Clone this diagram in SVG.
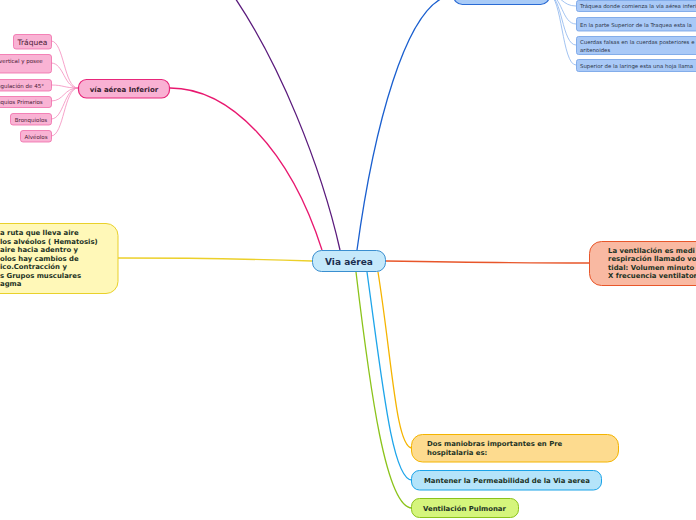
<svg xmlns="http://www.w3.org/2000/svg" width="696" height="520" viewBox="0 0 696 520">
<style>
text{font-family:"DejaVu Sans",Verdana,sans-serif;}
.b{font-weight:bold;}
.main{font-size:9px;fill:#1b2f4f;font-weight:bold;}
.t1{font-size:6.9px;fill:#1c3224;font-weight:bold;}
.pk{font-size:5.5px;fill:#4a2035;}
.bl{font-size:5.4px;fill:#2b3447;}
.c{fill:none;stroke-width:1.3;}
.cs{fill:none;stroke-width:0.8;}
</style>
<rect width="696" height="520" fill="#ffffff"/>
<g id="connectors">
<path class="c" stroke="#5a1a7c" d="M340,250 C322,170 280,60 226,-15"/>
<path class="c" stroke="#1a5fcf" d="M357,250 C372,140 405,-5 455,-5"/>
<path class="c" stroke="#e8186f" d="M322,250 C290,150 230,88 170,88"/>
<path class="c" stroke="#ecd02a" d="M312,261 C250,259 180,258 118,258"/>
<path class="c" stroke="#e8562a" d="M386,261 C450,262 520,263 589,263"/>
<path class="c" stroke="#f5b400" d="M378,272 C392,360 396,448 412,448"/>
<path class="c" stroke="#1ea5ea" d="M367,272 C382,380 392,480 412,480"/>
<path class="c" stroke="#8bc31a" d="M356,272 C370,390 386,508 412,508"/>
<g stroke="#f48bbd">
<path class="cs" d="M78,88 C64,88 64,41 51,41"/>
<path class="cs" d="M78,88 C64,88 64,63 51,63"/>
<path class="cs" d="M78,88 C64,88 64,85 51,85"/>
<path class="cs" d="M78,88 C64,88 64,101 51,101"/>
<path class="cs" d="M78,88 C64,88 64,119 51,119"/>
<path class="cs" d="M78,88 C64,88 64,136 51,136"/>
</g>
<g stroke="#8ab4ee">
<path class="cs" d="M549,-5 C562,-5 562,6 576,6"/>
<path class="cs" d="M549,-5 C562,-5 562,24 576,24"/>
<path class="cs" d="M549,-5 C562,-5 562,45 576,45"/>
<path class="cs" d="M549,-5 C562,-5 562,65 576,65"/>
</g>
</g>
<g id="n-center">
<rect x="312.5" y="250.5" width="73" height="21" rx="9" fill="#c5e9fb" stroke="#3a8fd0" stroke-width="1"/>
<text x="349" y="264.5" class="main" text-anchor="middle">Via aérea</text>
</g>
<g id="n-top-blue">
<rect x="453.5" y="-16" width="96" height="20.5" rx="9" fill="#a9cbf7" stroke="#2a6bd4" stroke-width="1.2"/>
</g>
<g id="n-b1">
<rect x="576.5" y="0.5" width="130" height="11" rx="2" fill="#a9c9f7" stroke="#6e9ee6" stroke-width="0.8"/>
<text x="580" y="8" class="bl">Tráquea donde comienza la vía aérea inferior</text>
</g>
<g id="n-b2">
<rect x="576.5" y="17.5" width="130" height="13.5" rx="2" fill="#a9c9f7" stroke="#6e9ee6" stroke-width="0.8"/>
<text x="580" y="26.5" class="bl">En la parte Superior de la Traquea esta la</text>
</g>
<g id="n-b3">
<rect x="576.5" y="36.5" width="130" height="18" rx="2" fill="#a9c9f7" stroke="#6e9ee6" stroke-width="0.8"/>
<text x="580" y="44" class="bl">Cuerdas falsas en la cuerdas posteriores e</text>
<text x="580" y="51.5" class="bl">aritenoides</text>
</g>
<g id="n-b4">
<rect x="576.5" y="59.5" width="130" height="12" rx="2" fill="#a9c9f7" stroke="#6e9ee6" stroke-width="0.8"/>
<text x="580" y="67.5" class="bl">Superior de la laringe esta una hoja llama</text>
</g>
<g id="n-inferior">
<rect x="78.5" y="79.5" width="91" height="18.5" rx="8" fill="#f9b1d3" stroke="#e8267a" stroke-width="1.2"/>
<text x="124" y="91.5" class="b" font-size="7px" fill="#3a2030" text-anchor="middle">vía aérea Inferior</text>
</g>
<g id="n-p1">
<rect x="13.5" y="34.5" width="38" height="14.5" rx="2.5" fill="#f9b3d4" stroke="#f06ba8" stroke-width="0.8"/>
<text x="32.5" y="44.5" font-size="7.5px" fill="#4a2035" text-anchor="middle">Tráquea</text>
</g>
<g id="n-p2">
<rect x="-10" y="54.5" width="61.5" height="18.5" rx="2.5" fill="#f9b3d4" stroke="#f06ba8" stroke-width="0.8"/>
<text x="-1" y="63" class="pk">vertical y posee</text>
</g>
<g id="n-p3">
<rect x="-10" y="79.5" width="61.5" height="11.5" rx="2.5" fill="#f9b3d4" stroke="#f06ba8" stroke-width="0.8"/>
<text x="-3" y="87.5" class="pk">ngulación de 45°</text>
</g>
<g id="n-p4">
<rect x="-10" y="96.5" width="61.5" height="11" rx="2.5" fill="#f9b3d4" stroke="#f06ba8" stroke-width="0.8"/>
<text x="-3" y="104" class="pk">nquios Primarios</text>
</g>
<g id="n-p5">
<rect x="10.5" y="113.5" width="41" height="11.5" rx="2.5" fill="#f9b3d4" stroke="#f06ba8" stroke-width="0.8"/>
<text x="31" y="121.5" class="pk" text-anchor="middle">Bronquiolos</text>
</g>
<g id="n-p6">
<rect x="20.5" y="130.5" width="31" height="11.5" rx="2.5" fill="#f9b3d4" stroke="#f06ba8" stroke-width="0.8"/>
<text x="36" y="138.5" class="pk" text-anchor="middle">Alvéolos</text>
</g>
<g id="n-yellow">
<rect x="-20" y="223.5" width="138" height="70" rx="12" fill="#fff8b8" stroke="#e9d12a" stroke-width="1"/>
<text class="t1">
<tspan x="0" y="235">a ruta que lleva aire</tspan>
<tspan x="0" y="243.5">los alvéolos ( Hematosis)</tspan>
<tspan x="0" y="252">aire hacia adentro y</tspan>
<tspan x="0" y="260.5">olos hay cambios de</tspan>
<tspan x="0" y="269">ico.Contracción y</tspan>
<tspan x="0" y="277.5">s Grupos musculares</tspan>
<tspan x="0" y="286">agma</tspan>
</text>
</g>
<g id="n-orange">
<rect x="589.5" y="241.5" width="130" height="44" rx="12" fill="#f9b9a2" stroke="#e8562a" stroke-width="1"/>
<text class="t1">
<tspan x="608" y="252.5">La ventilación es medi</tspan>
<tspan x="608" y="261">respiración llamado vo</tspan>
<tspan x="608" y="269.5">tidal: Volumen minuto</tspan>
<tspan x="608" y="278">X frecuencia ventilator</tspan>
</text>
</g>
<g id="n-dos">
<rect x="411.5" y="434.5" width="207" height="27.5" rx="11" fill="#fddb8f" stroke="#f4b400" stroke-width="1"/>
<text class="t1">
<tspan x="427" y="445.5">Dos maniobras importantes en Pre</tspan>
<tspan x="427" y="455">hospitalaria es:</tspan>
</text>
</g>
<g id="n-mantener">
<rect x="411.5" y="470.5" width="190" height="19.5" rx="8" fill="#b4e4fa" stroke="#1aa3e8" stroke-width="1"/>
<text x="424" y="483" class="t1">Mantener la Permeabilidad de la Via aerea</text>
</g>
<g id="n-ventilacion">
<rect x="411.5" y="498.5" width="107" height="19" rx="8" fill="#d5f57c" stroke="#8bc31a" stroke-width="1"/>
<text x="423" y="511" class="t1">Ventilación Pulmonar</text>
</g>
</svg>
